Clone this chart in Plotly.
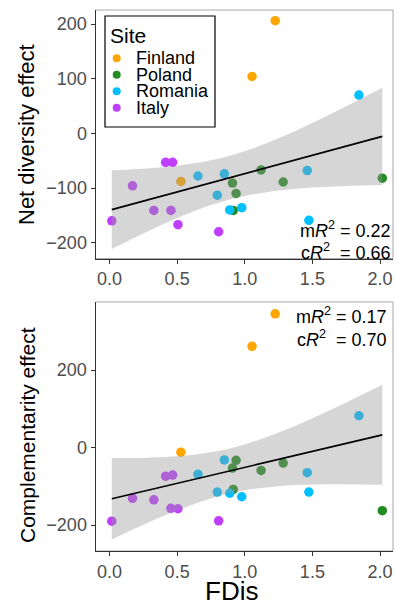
import plotly.graph_objects as go

# ---------------- data ----------------
sites = ["Finland", "Poland", "Romania", "Italy"]

fdis_finland = [0.528, 1.054, 1.225]
net_finland = [-88, 104, 206]
comp_finland = [-12, 261, 345]

fdis_poland = [0.909, 0.915, 0.936, 1.121, 1.284, 2.017]
net_poland = [-91, -141, -110, -67, -89, -82]
comp_poland = [-53, -108, -33, -59, -40, -163]

fdis_romania = [0.654, 0.797, 0.849, 0.889, 0.978, 1.462, 1.474, 1.844]
net_romania = [-78, -113, -74, -140, -136, -68, -159, 70]
comp_romania = [-69, -115, -32, -118, -127, -65, -115, 82]

fdis_italy = [0.017, 0.170, 0.328, 0.415, 0.454, 0.467, 0.506, 0.807]
net_italy = [-160, -96, -141, -53, -141, -53, -167, -180]
comp_italy = [-190, -131, -135, -74, -157, -71, -158, -189]

# fitted mixed-model line with 95% band, read at these FDis values
fit_x = [0.017, 0.25, 0.5, 0.75, 1.0, 1.25, 1.5, 1.75, 2.017]
net_fit = [-139.5, -123.9, -107.1, -90.4, -73.6, -56.9, -40.1, -23.4, -5.5]
net_lo = [-211.5, -183.0, -155.0, -131.0, -114.5, -104.6, -99.2, -96.2, -94.5]
net_hi = [-67.5, -64.7, -59.3, -49.4, -32.7, -9.1, 19.0, 49.5, 83.5]

comp_fit = [-132.3, -113.1, -92.5, -71.8, -51.2, -30.6, -10.0, 10.7, 32.7]
comp_lo = [-237.3, -199.4, -162.1, -131.3, -110.5, -99.7, -95.5, -94.9, -96.3]
comp_hi = [-27.3, -26.8, -22.8, -12.3, 8.1, 38.5, 75.6, 116.3, 161.7]

x_ticks = [0, 0.5, 1.0, 1.5, 2.0]
x_ticktext = ["0.0", "0.5", "1.0", "1.5", "2.0"]
net_ticks = [-200, -100, 0, 100, 200]
net_ticktext = ["\u2212200", "\u2212100", "0", "100", "200"]
comp_ticks = [-200, 0, 200]
comp_ticktext = ["\u2212200", "0", "200"]

net_r2 = ["m<i>R</i><sup>2</sup> = 0.22", "c<i>R</i><sup>2</sup>\u00a0 = 0.66"]
comp_r2 = ["m<i>R</i><sup>2</sup> = 0.17", "c<i>R</i><sup>2</sup>\u00a0 = 0.70"]

# ---------------- styling ----------------
W, H = 395, 602
FONT = "Liberation Sans, Arial, Helvetica, sans-serif"
colors = {"Finland": "#FFA500", "Poland": "#228B22",
          "Romania": "#00BFFF", "Italy": "#BF3EFF"}
site_data = {
    "Finland": (fdis_finland, net_finland, comp_finland),
    "Poland": (fdis_poland, net_poland, comp_poland),
    "Romania": (fdis_romania, net_romania, comp_romania),
    "Italy": (fdis_italy, net_italy, comp_italy),
}


def px(x):
    return x / W


def py(y):
    return 1 - y / H


fig = go.Figure()

for panel, (xa, ya) in enumerate([("x", "y"), ("x2", "y2")]):
    for s in sites:
        fx, nv, cv = site_data[s]
        fig.add_trace(go.Scatter(
            x=fx, y=nv if panel == 0 else cv, mode="markers",
            marker=dict(color=colors[s], size=9.5, line=dict(width=0)),
            xaxis=xa, yaxis=ya, showlegend=False, name=s))
    lo, hi, fit = (net_lo, net_hi, net_fit) if panel == 0 else (comp_lo, comp_hi, comp_fit)
    fig.add_trace(go.Scatter(x=fit_x, y=lo, mode="lines",
                             line=dict(width=0, shape="spline"),
                             xaxis=xa, yaxis=ya, showlegend=False, hoverinfo="skip"))
    fig.add_trace(go.Scatter(x=fit_x, y=hi, mode="lines",
                             line=dict(width=0, shape="spline"),
                             fill="tonexty", fillcolor="rgba(153,153,153,0.4)",
                             xaxis=xa, yaxis=ya, showlegend=False, hoverinfo="skip"))
    fig.add_trace(go.Scatter(x=fit_x, y=fit, mode="lines",
                             line=dict(color="black", width=1.6),
                             xaxis=xa, yaxis=ya, showlegend=False))

tickfont = dict(family=FONT, size=18, color="#4D4D4D")
common_x = dict(range=[-0.1035, 2.096], tickvals=x_ticks, ticktext=x_ticktext,
                ticks="outside", ticklen=4, tickwidth=1, tickcolor="#333333",
                showline=True, linecolor="#333333", linewidth=1,
                showgrid=False, zeroline=False, tickfont=tickfont,
                domain=[px(95.5), px(393)])
common_y = dict(ticks="outside", ticklen=4, tickwidth=1, tickcolor="#333333",
                showline=True, linecolor="#333333", linewidth=1,
                showgrid=False, zeroline=False, tickfont=tickfont)

fig.update_layout(
    width=W, height=H, margin=dict(l=0, r=0, t=0, b=0),
    paper_bgcolor="white", plot_bgcolor="white",
    font=dict(family=FONT),
    xaxis=dict(common_x, anchor="y"),
    yaxis=dict(common_y, anchor="x", range=[-228.9, 225.6],
               tickvals=net_ticks, ticktext=net_ticktext,
               domain=[py(258.5), py(10)]),
    xaxis2=dict(common_x, anchor="y2"),
    yaxis2=dict(common_y, anchor="x2", range=[-267, 375.5],
                tickvals=comp_ticks, ticktext=comp_ticktext,
                domain=[py(551), py(302)]),
    showlegend=False,
)

shapes = []
for xr, yr in [("x domain", "y domain"), ("x2 domain", "y2 domain")]:
    shapes.append(dict(type="rect", xref=xr, yref=yr, x0=0, x1=1, y0=0, y1=1,
                       line=dict(color="#A8A8A8", width=1), layer="below"))

# legend box (manual, to match the compact ggplot key)
shapes.append(dict(type="rect", xref="paper", yref="paper",
                   x0=px(105), x1=px(215), y0=py(127), y1=py(16),
                   line=dict(color="black", width=1.2), fillcolor="white", layer="above"))
annotations = [dict(text="Site", xref="paper", yref="paper", x=px(108), y=py(36),
                    xanchor="left", yanchor="middle", showarrow=False,
                    font=dict(family=FONT, size=21, color="black"))]
for i, s in enumerate(sites):
    yc = 58.3 + 16.5 * i
    shapes.append(dict(type="circle", xref="paper", yref="paper",
                       xsizemode="pixel", ysizemode="pixel",
                       xanchor=px(116.7), yanchor=py(yc), x0=-4, x1=4, y0=-4, y1=4,
                       fillcolor=colors[s], line=dict(width=0), layer="above"))
    annotations.append(dict(text=s, xref="paper", yref="paper", x=px(134), y=py(yc),
                            xanchor="left", yanchor="middle", showarrow=False,
                            font=dict(family=FONT, size=18, color="black")))

# R^2 labels
for i, t in enumerate(net_r2):
    annotations.append(dict(text=t, xref="paper", yref="paper", x=px(393), y=py(230 + 21 * i),
                            xanchor="right", yanchor="middle", showarrow=False,
                            font=dict(family=FONT, size=18, color="black")))
for i, t in enumerate(comp_r2):
    annotations.append(dict(text=t, xref="paper", yref="paper", x=px(389), y=py(315 + 23 * i),
                            xanchor="right", yanchor="middle", showarrow=False,
                            font=dict(family=FONT, size=18, color="black")))

# axis titles
annotations.append(dict(text="Net diversity effect", xref="paper", yref="paper",
                        x=px(27), y=py(135), textangle=-90, showarrow=False,
                        xanchor="center", yanchor="middle",
                        font=dict(family=FONT, size=22, color="black")))
annotations.append(dict(text="Complementarity effect", xref="paper", yref="paper",
                        x=px(27), y=py(435), textangle=-90, showarrow=False,
                        xanchor="center", yanchor="middle",
                        font=dict(family=FONT, size=21, color="black")))
annotations.append(dict(text="FDis", xref="paper", yref="paper",
                        x=px(231), y=py(591), showarrow=False,
                        xanchor="center", yanchor="middle",
                        font=dict(family=FONT, size=26, color="black")))

fig.update_layout(shapes=shapes, annotations=annotations)
fig.write_html("out.html", config={"displayModeBar": False},
               post_script="document.body.style.margin='0';"
                           "document.body.style.overflow='hidden';")
